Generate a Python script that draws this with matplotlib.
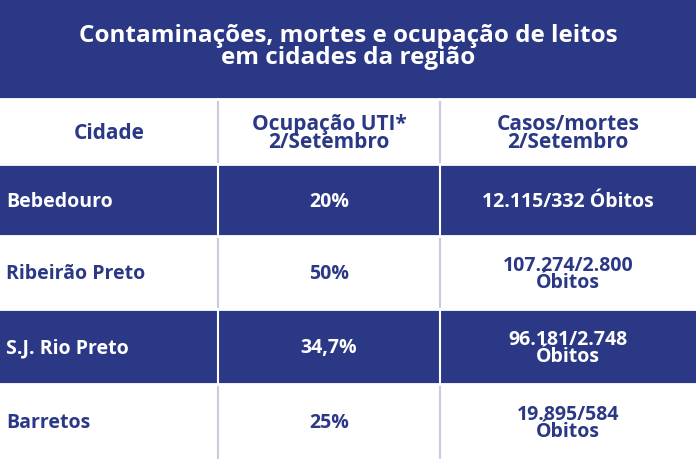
import matplotlib
matplotlib.use("Agg")
import matplotlib.pyplot as plt
from matplotlib.patches import Rectangle

title = "Contaminações, mortes e ocupação de leitos\nem cidades da região"
headers = ["Cidade", "Ocupação UTI*\n2/Setembro", "Casos/mortes\n2/Setembro"]
cities = ["Bebedouro", "Ribeirão Preto", "S.J. Rio Preto", "Barretos"]
uti = ["20%", "50%", "34,7%", "25%"]
casos = ["12.115/332 Óbitos", "107.274/2.800\nÓbitos", "96.181/2.748\nÓbitos", "19.895/584\nÓbitos"]

NAVY = "#2b3886"
W, H = 696, 460
fig = plt.figure(figsize=(W/100, H/100), dpi=100)
ax = fig.add_axes([0, 0, 1, 1])
ax.set_xlim(0, W); ax.set_ylim(H, 0); ax.axis("off")
font = dict(family="Open Sans", weight="bold")

ax.add_patch(Rectangle((0, 0), W, 100, color=NAVY))
ax.text(348, 47, title, ha="center", va="center", color="white", fontsize=17.5,
        linespacing=0.85, **font)

cols = [(0, 218), (218, 440), (440, 696)]
rows = [(100, 165), (165, 237), (237, 310), (310, 385), (385, 460)]
data = [headers] + [[c, u, k] for c, u, k in zip(cities, uti, casos)]
for i, ((y0, y1), rowvals) in enumerate(zip(rows, data)):
    navy = i in (1, 3)
    bg = NAVY if navy else "white"
    fg = "white" if navy else NAVY
    ax.add_patch(Rectangle((0, y0), W, y1 - y0, color=bg))
    for j, ((x0, x1), val) in enumerate(zip(cols, rowvals)):
        if j == 0 and i > 0:
            x, ha = 6, "left"
        else:
            x, ha = (x0 + x1) / 2, "center"
        fs = 15 if i == 0 else 14
        ax.text(x, (y0 + y1) / 2 + 1, val, ha=ha, va="center", color=fg,
                fontsize=fs, linespacing=0.85, **font)
    # column separators
    for xs in (218, 440):
        ax.plot([xs, xs], [y0, y1], color="white" if navy else "#c8cbe0", lw=1.5)
for y in (100, 165, 237, 310, 385):
    ax.plot([0, W], [y, y], color="white", lw=2)

fig.savefig("out.png", dpi=100)
